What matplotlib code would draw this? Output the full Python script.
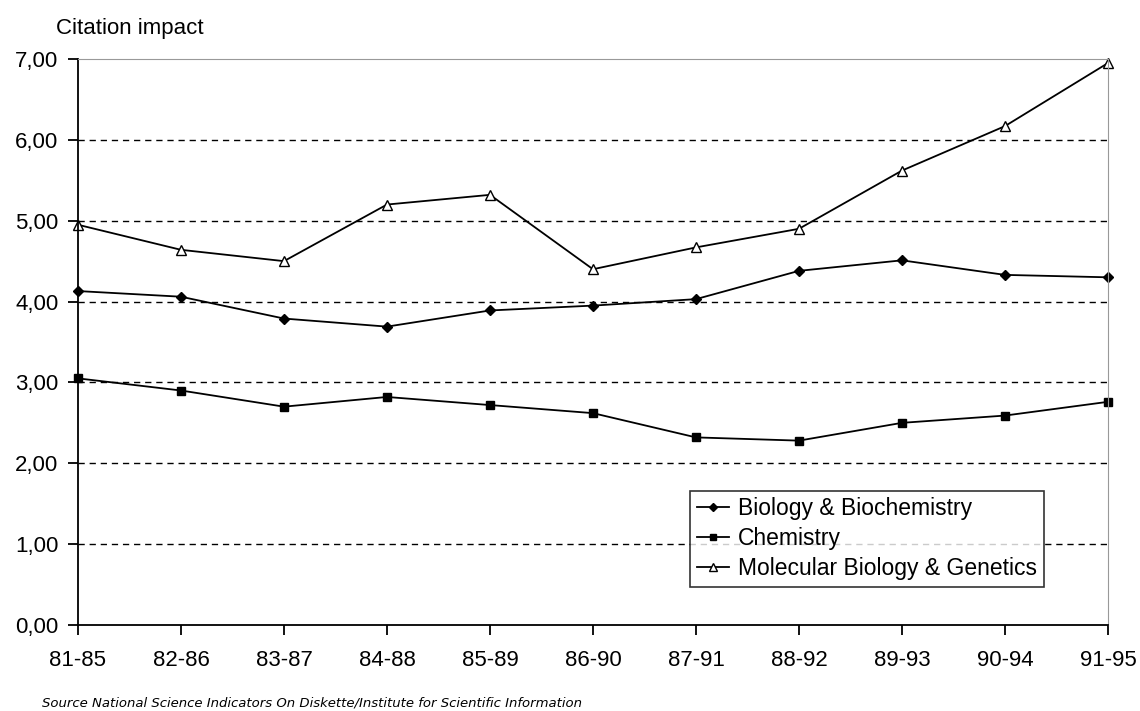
import matplotlib.pyplot as plt

plt.rcParams['font.family'] = ['Liberation Sans', 'DejaVu Sans']

periods = ['81-85', '82-86', '83-87', '84-88', '85-89', '86-90',
           '87-91', '88-92', '89-93', '90-94', '91-95']
biology = [4.13, 4.06, 3.79, 3.69, 3.89, 3.95, 4.03, 4.38, 4.51, 4.33, 4.30]
chemistry = [3.05, 2.90, 2.70, 2.82, 2.72, 2.62, 2.32, 2.28, 2.50, 2.59, 2.76]
molecular = [4.95, 4.64, 4.50, 5.20, 5.32, 4.40, 4.67, 4.90, 5.62, 6.17, 6.95]
names = ['Biology & Biochemistry', 'Chemistry', 'Molecular Biology & Genetics']

fig = plt.figure(figsize=(11.4, 7.11), dpi=100)
ax = fig.add_axes([0.0684, 0.121, 0.9035, 0.796])
x = range(len(periods))

ax.plot(x, biology, color='black', lw=1.3, marker='D', ms=5, mfc='black', label=names[0], clip_on=False)
ax.plot(x, chemistry, color='black', lw=1.3, marker='s', ms=6, mfc='black', label=names[1], clip_on=False)
ax.plot(x, molecular, color='black', lw=1.3, marker='^', ms=7, mfc='white', mec='black', label=names[2], clip_on=False)

for yv in range(1, 7):
    ax.axhline(yv, color='black', lw=1.0, ls=(0, (4.5, 3.5)), zorder=0)

ax.set_xlim(0, len(periods) - 1)
ax.set_ylim(0, 7)
ax.set_xticks(list(x))
ax.set_xticklabels(periods)
ax.set_yticks(range(0, 8))
ax.set_yticklabels(['%d,00' % v for v in range(0, 8)])
ax.tick_params(labelsize=16, direction='out', length=7, width=1.3, colors='black')
ax.tick_params(axis='x', pad=11)
ax.tick_params(axis='y', pad=7)
ax.spines['left'].set_color('black')
ax.spines['bottom'].set_color('black')
ax.spines['left'].set_linewidth(1.3)
ax.spines['bottom'].set_linewidth(1.3)
ax.spines['top'].set_color('#999999')
ax.spines['right'].set_color('#999999')

leg = ax.legend(loc='lower right', bbox_to_anchor=(0.938, 0.067), borderaxespad=0,
                fontsize=16.5, frameon=True, fancybox=False, edgecolor='black',
                borderpad=0.3, labelspacing=0.3, handlelength=1.4, handletextpad=0.4,
                markerscale=0.8)
leg.get_frame().set_linewidth(1.2)

fig.text(0.049, 0.96, 'Citation impact', fontsize=16, va='center')
fig.text(0.037, 0.011, 'Source National Science Indicators On Diskette/Institute for Scientific Information',
         fontsize=9.5, style='italic', va='center', family='DejaVu Sans')

plt.savefig('out.png', dpi=100, facecolor='w')
plt.close()
